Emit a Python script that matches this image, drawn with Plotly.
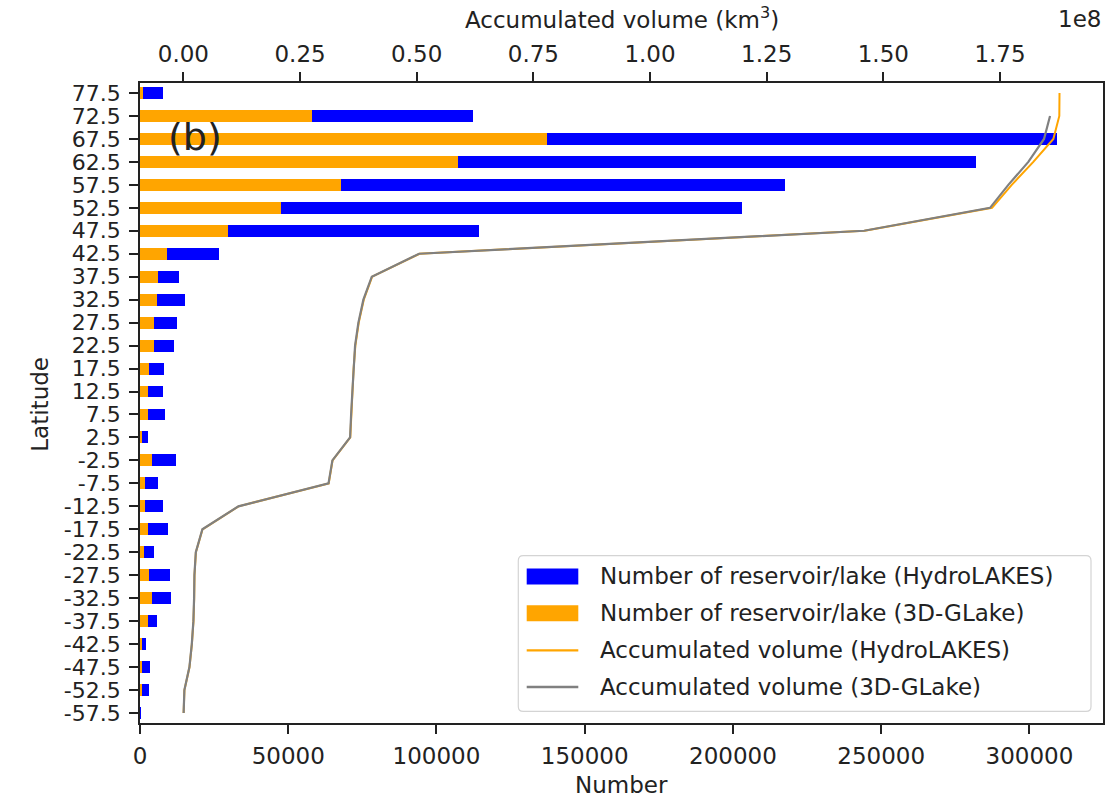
import plotly.graph_objects as go

# ---------------- data ----------------
latitudes = [77.5, 72.5, 67.5, 62.5, 57.5, 52.5, 47.5, 42.5, 37.5, 32.5, 27.5, 22.5,
             17.5, 12.5, 7.5, 2.5, -2.5, -7.5, -12.5, -17.5, -22.5, -27.5, -32.5,
             -37.5, -42.5, -47.5, -52.5, -57.5]
lat_labels = [str(v) for v in latitudes]

count_hydrolakes = [7800, 112300, 309300, 281900, 217500, 202900, 114500, 26500, 13000,
                    15200, 12400, 11400, 8000, 7600, 8400, 2650, 12300, 6100, 7600, 9300,
                    4800, 10200, 10600, 5700, 1900, 3400, 2900, 150]
count_3dglake = [900, 58000, 137400, 107300, 67700, 47400, 29800, 9000, 6000, 5700, 4600,
                 4800, 3100, 2800, 2800, 600, 3900, 1600, 1800, 2650, 1200, 3000, 4200,
                 2800, 400, 600, 500, 0]

vol_hydrolakes = [1.8775e8, 1.8771e8, 1.8643e8, 1.8214e8, 1.7751e8, 1.7329e8, 1.4600e8,
                  0.5060e8, 0.4045e8, 0.3865e8, 0.3758e8, 0.3685e8, 0.3648e8, 0.3626e8,
                  0.3598e8, 0.3576e8, 0.3197e8, 0.3114e8, 0.1183e8, 0.0410e8, 0.0268e8,
                  0.0238e8, 0.0231e8, 0.0216e8, 0.0182e8, 0.0131e8, 0.0022e8, 0.0005e8]
vol_3dglake = [None, 1.8572e8, 1.8443e8, 1.8107e8, 1.7678e8, 1.7286e8, 1.4586e8,
               0.5050e8, 0.4037e8, 0.3857e8, 0.3750e8, 0.3679e8, 0.3643e8, 0.3621e8,
               0.3594e8, 0.3572e8, 0.3193e8, 0.3110e8, 0.1179e8, 0.0407e8, 0.0266e8,
               0.0236e8, 0.0229e8, 0.0214e8, 0.0180e8, 0.0129e8, 0.0021e8, 0.0005e8]

count_ticks = [0, 50000, 100000, 150000, 200000, 250000, 300000]
count_tick_labels = ["0", "50000", "100000", "150000", "200000", "250000", "300000"]
vol_ticks = [0, 0.25e8, 0.5e8, 0.75e8, 1.0e8, 1.25e8, 1.5e8, 1.75e8]
vol_tick_labels = ["0.00", "0.25", "0.50", "0.75", "1.00", "1.25", "1.50", "1.75"]

legend_labels = ["Number of reservoir/lake (HydroLAKES)",
                 "Number of reservoir/lake (3D-GLake)",
                 "Accumulated volume (HydroLAKES)",
                 "Accumulated volume (3D-GLake)"]

# ---------------- style ----------------
BLUE = "#0000ff"
ORANGE = "#ffa500"
GRAY = "#808080"
TXT = "#222222"
FONT = "DejaVu Sans"
FS = 23

W, H = 1119, 802
L, R, T, B = 140, 1103, 83.3, 723.3


def px(x):
    return (x - L) / (R - L)


def py(y):
    return (B - y) / (B - T)


fig = go.Figure()
fig.add_trace(go.Bar(y=latitudes, x=count_hydrolakes, orientation="h", width=2.6,
                     marker=dict(color=BLUE, line=dict(width=0)), showlegend=False,
                     xaxis="x", yaxis="y"))
fig.add_trace(go.Bar(y=latitudes, x=count_3dglake, orientation="h", width=2.6,
                     marker=dict(color=ORANGE, line=dict(width=0)), showlegend=False,
                     xaxis="x", yaxis="y"))
fig.add_trace(go.Scatter(y=latitudes, x=vol_hydrolakes, mode="lines",
                         line=dict(color=ORANGE, width=2), showlegend=False,
                         xaxis="x2", yaxis="y"))
fig.add_trace(go.Scatter(y=latitudes, x=vol_3dglake, mode="lines",
                         line=dict(color=GRAY, width=2.2), showlegend=False,
                         xaxis="x2", yaxis="y"))

axis_common = dict(showgrid=False, zeroline=False, showline=True, linecolor="#222",
                   linewidth=1.6, ticks="outside", ticklen=9, tickwidth=1.5,
                   tickcolor="#222")

fig.update_layout(
    width=W, height=H,
    margin=dict(l=L, r=W - R, t=T, b=H - B, pad=0),
    plot_bgcolor="white", paper_bgcolor="white",
    barmode="overlay", bargap=0,
    showlegend=False,
    xaxis=dict(range=[0, 324800], tickvals=count_ticks, ticktext=count_tick_labels,
               ticklabelstandoff=3, tickfont=dict(family=FONT, size=FS, color=TXT),
               **axis_common),
    xaxis2=dict(range=[-0.093e8, 1.9707e8], overlaying="x", side="top",
                tickvals=vol_ticks, ticktext=vol_tick_labels, ticklabelstandoff=1,
                tickfont=dict(family=FONT, size=FS, color=TXT), **axis_common),
    yaxis=dict(range=[-59.68, 79.68], tickvals=latitudes, ticktext=lat_labels,
               mirror=True, ticklabelstandoff=4,
               tickfont=dict(family=FONT, size=22, color=TXT), **axis_common),
)

annotations = [
    dict(text="Number", x=0.5, y=py(785), xanchor="center", yanchor="middle"),
    dict(text="Latitude", x=px(40), y=py(405), textangle=-90, xanchor="center",
         yanchor="middle"),
    dict(text="Accumulated volume (km<sup>3</sup>)", x=0.5, y=py(18), xanchor="center",
         yanchor="middle"),
    dict(text="1e8", x=1.0, y=py(19), xanchor="right", yanchor="middle"),
    dict(text="(b)", x=px(195), y=py(137), xanchor="center", yanchor="middle",
         font=dict(family=FONT, size=38, color=TXT)),
]

# legend drawn manually (matplotlib style)
lx0, lx1, ly0, ly1 = 518.3, 1091, 556, 711.7
r = 5
rx, ry = r / (R - L), r / (B - T)
X0, X1, Y0, Y1 = px(lx0), px(lx1), py(ly1), py(ly0)
path = (f"M {X0+rx},{Y0} L {X1-rx},{Y0} Q {X1},{Y0} {X1},{Y0+ry} "
        f"L {X1},{Y1-ry} Q {X1},{Y1} {X1-rx},{Y1} L {X0+rx},{Y1} "
        f"Q {X0},{Y1} {X0},{Y1-ry} L {X0},{Y0+ry} Q {X0},{Y0} {X0+rx},{Y0} Z")
shapes = [dict(type="path", path=path, xref="paper", yref="paper",
               line=dict(color="#d4d4d4", width=1.2), fillcolor="rgba(255,255,255,0.85)",
               layer="above")]
rows = [576.7, 613.6, 650.7, 687.3]
hx0, hx1 = 526.7, 578.3
shapes.append(dict(type="rect", xref="paper", yref="paper", x0=px(hx0), x1=px(hx1),
                   y0=py(rows[0] + 8), y1=py(rows[0] - 8), fillcolor=BLUE,
                   line=dict(width=0), layer="above"))
shapes.append(dict(type="rect", xref="paper", yref="paper", x0=px(hx0), x1=px(hx1),
                   y0=py(rows[1] + 8), y1=py(rows[1] - 8), fillcolor=ORANGE,
                   line=dict(width=0), layer="above"))
shapes.append(dict(type="line", xref="paper", yref="paper", x0=px(hx0), x1=px(hx1),
                   y0=py(rows[2]), y1=py(rows[2]), line=dict(color=ORANGE, width=2.2),
                   layer="above"))
shapes.append(dict(type="line", xref="paper", yref="paper", x0=px(hx0), x1=px(hx1),
                   y0=py(rows[3]), y1=py(rows[3]), line=dict(color=GRAY, width=2.4),
                   layer="above"))
for lab, yy in zip(legend_labels, rows):
    annotations.append(dict(text=lab, x=px(598), y=py(yy), xanchor="left",
                            yanchor="middle"))

for a in annotations:
    a.setdefault("font", dict(family=FONT, size=FS, color=TXT))
    a.update(xref="paper", yref="paper", showarrow=False)

fig.update_layout(annotations=annotations, shapes=shapes)

fig.write_html("out.html")
